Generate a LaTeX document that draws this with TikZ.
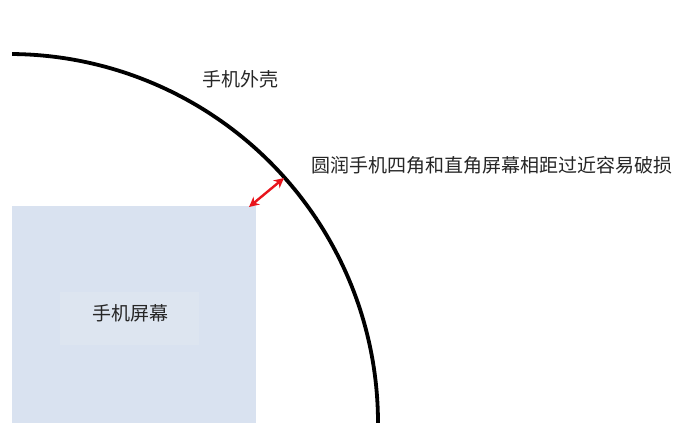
\documentclass[tikz,border=0pt]{standalone}
\usepackage{fontspec}
\newfontfamily\cjk{Noto Sans CJK SC}
\usetikzlibrary{arrows.meta}
\definecolor{screenblue}{HTML}{D9E2F0}
\definecolor{labelblue}{HTML}{DDE5F0}
\definecolor{arrowred}{HTML}{E8141C}
\tikzset{
  lbl/.style={font=\cjk\fontsize{19pt}{22pt}\selectfont, text=black!85, inner sep=0pt},
  shell/.style={line width=3.8pt, draw=black},
  gap/.style={draw=arrowred, line width=2.4pt, {Stealth[length=10pt,width=10pt]}-{Stealth[length=10pt,width=10pt]}}
}
\begin{document}
\begin{tikzpicture}[x=1pt,y=1pt]
\useasboundingbox (0,0) rectangle (691,423);
\clip (0,0) rectangle (691,423);
% screen
\fill[screenblue] (12,0) rectangle (256,217);
\node[fill=labelblue, minimum width=139pt, minimum height=53pt, inner sep=0pt] (screenlbl) at (129.5,104.5) {};
\node[lbl] (screentext) at (130.5,110) {手机屏幕};
% shell arc
\draw[shell] (9,0) ++(89.5:369) arc[start angle=89.5, end angle=-2, radius=369];
\node[lbl] (shelltext) at (240.5,344) {手机外壳};
\node[lbl, anchor=west] (note) at (311,258) {圆润手机四角和直角屏幕相距过近容易破损};
% gap arrow
\coordinate (a) at (249,216);
\coordinate (b) at (284,245);
\draw[gap] (a) -- (b);
\end{tikzpicture}
\end{document}
